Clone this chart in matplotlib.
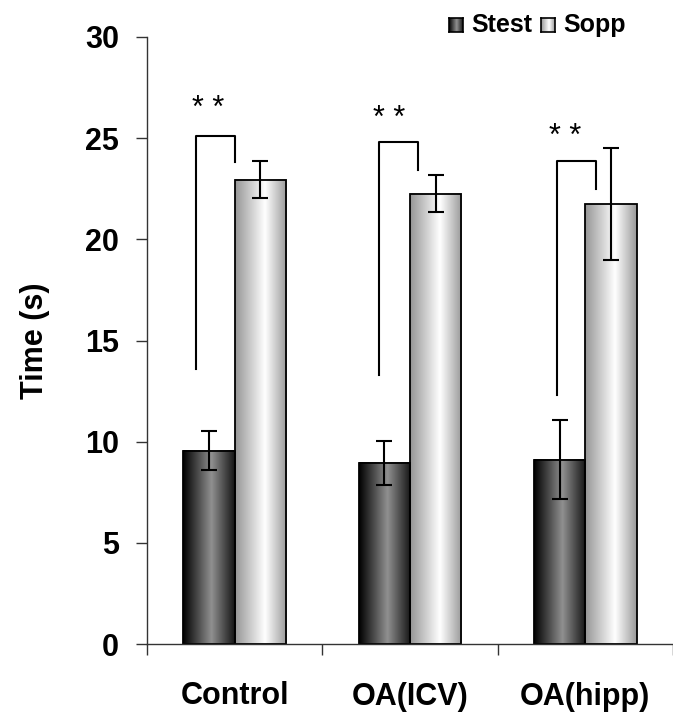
import numpy as np
import matplotlib.pyplot as plt
from matplotlib.colors import LinearSegmentedColormap

plt.rcParams['font.family'] = ['Liberation Sans', 'DejaVu Sans']

# Data
groups = ["Control", "OA(ICV)", "OA(hipp)"]
stest = [9.55, 8.95, 9.1]
stest_err = [0.97, 1.08, 1.95]
sopp = [22.95, 22.25, 21.73]
sopp_err = [0.93, 0.92, 2.77]
series_names = ["Stest", "Sopp"]

# significance brackets (y values) and labels
bracket_low = [13.6, 13.3, 12.3]
bracket_top = [25.1, 24.8, 23.85]
bracket_right_low = [23.8, 23.45, 22.5]
bracket_left_dx = [-0.222, -0.177, -0.159]
bracket_right_dx = [0.002, 0.048, 0.061]
star_y = [26.45, 25.95, 25.05]
star_dx = [-0.152, -0.117, -0.116]
star_text = "* *"

dark_cmap = LinearSegmentedColormap.from_list(
    "dark", [(0, "#000000"), (0.55, "#909090"), (1.0, "#141414")])
light_cmap = LinearSegmentedColormap.from_list(
    "light", [(0, "#959595"), (0.58, "#ffffff"), (1.0, "#999999")])
grad = np.linspace(0, 1, 256)[None, :]

fig = plt.figure(figsize=(6.73, 7.16), dpi=100)
ax = fig.add_axes([147 / 673, 72 / 716, 526 / 673, 607 / 716])

x = np.arange(len(groups))
w = 0.293

for vals, cmap, off in [(stest, dark_cmap, -w / 2), (sopp, light_cmap, w / 2)]:
    for xi, v in zip(x, vals):
        ax.imshow(grad, extent=[xi + off - w / 2, xi + off + w / 2, 0, v],
                  aspect='auto', cmap=cmap, zorder=1, interpolation='bilinear')
    ax.bar(x + off, vals, width=w, fill=False, edgecolor='black', linewidth=1.3, zorder=2)

ax.errorbar(x - w / 2, stest, yerr=stest_err, fmt='none', ecolor='black',
            elinewidth=1.5, capsize=6, capthick=1.5, zorder=3)
ax.errorbar(x + w / 2, sopp, yerr=sopp_err, fmt='none', ecolor='black',
            elinewidth=1.5, capsize=6, capthick=1.5, zorder=3)

for i in range(len(groups)):
    xl = x[i] + bracket_left_dx[i]
    xr = x[i] + bracket_right_dx[i]
    ax.plot([xl, xl, xr, xr],
            [bracket_low[i], bracket_top[i], bracket_top[i], bracket_right_low[i]],
            color='black', linewidth=1.5, zorder=3)
    ax.text(x[i] + star_dx[i], star_y[i], star_text, ha='center', va='center',
            fontsize=22)

ax.set_xlim(-0.5, 2.5)
ax.set_ylim(0, 30)

for s in ['top', 'right']:
    ax.spines[s].set_visible(False)
for s in ['left', 'bottom']:
    ax.spines[s].set_color('#333333')
    ax.spines[s].set_linewidth(1.0)

ax.set_yticks(np.arange(0, 31, 5))
ax.tick_params(axis='y', direction='out', length=8, width=1, color='#333333',
               labelsize=22, pad=12)
for lab in ax.get_yticklabels():
    lab.set_fontweight('bold')

ax.set_xticks([-0.5, 0.5, 1.5, 2.5])
ax.set_xticklabels([])
ax.tick_params(axis='x', direction='out', length=8, width=1, color='#333333')
ax.set_xticks(x, minor=True)
ax.set_xticklabels(groups, minor=True, fontsize=22, fontweight='bold')
ax.tick_params(axis='x', which='minor', length=0, pad=27)

ax.set_ylabel("Time (s)", fontsize=22, fontweight='bold')
ax.yaxis.set_label_coords(-0.185, 0.5)

# legend at top right
for (lx, name, cmap) in [(449, series_names[0], dark_cmap), (541, series_names[1], light_cmap)]:
    lax = fig.add_axes([lx / 673, 1 - 32 / 716, 14 / 673, 14 / 716])
    lax.imshow(grad, aspect='auto', cmap=cmap, extent=[0, 1, 0, 1])
    lax.set_xticks([])
    lax.set_yticks([])
    for s in lax.spines.values():
        s.set_linewidth(1.2)
    fig.text((lx + 22) / 673, 1 - 25 / 716, name, fontsize=18, fontweight='bold',
             va='center', ha='left')

fig.savefig("out.png", dpi=100)
